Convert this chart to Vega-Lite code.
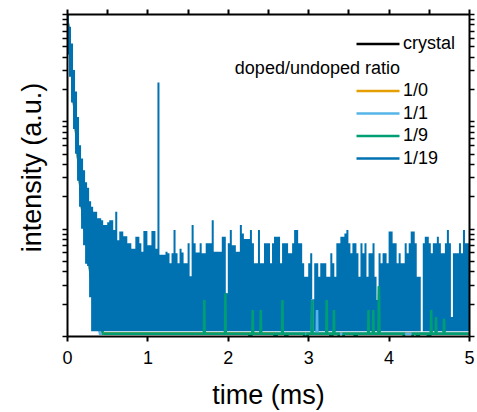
{
  "$schema": "https://vega.github.io/schema/vega-lite/v6.json",
  "width": 402,
  "height": 322,
  "autosize": "none",
  "padding": {"left": 67, "top": 14, "right": 8, "bottom": 76},
  "config": {"font": "Liberation Sans", "view": {"stroke": null}},
  "datasets": {
    "others": [
      {"s":"crystal","t":0,"v":1000},{"s":"crystal","t":0.05,"v":380},{"s":"crystal","t":0.1,"v":110},{"s":"crystal","t":0.15,"v":35},{"s":"crystal","t":0.2,"v":12},{"s":"crystal","t":0.25,"v":7.5},{"s":"crystal","t":0.3,"v":3.5},{"s":"crystal","t":0.35,"v":1.8},{"s":"crystal","t":0.45,"v":1.05},{"s":"crystal","t":5,"v":1.05},
      {"s":"1/0","t":0,"v":1000},{"s":"1/0","t":0.05,"v":370},{"s":"1/0","t":0.1,"v":105},{"s":"1/0","t":0.15,"v":34},{"s":"1/0","t":0.2,"v":12},{"s":"1/0","t":0.25,"v":7},{"s":"1/0","t":0.3,"v":3.4},{"s":"1/0","t":0.35,"v":1.8},{"s":"1/0","t":0.45,"v":1.05},
      {"s":"1/0","t":2.715,"v":1.05},{"s":"1/0","t":2.716,"v":0.9},{"s":"1/0","t":2.735,"v":0.9},{"s":"1/0","t":2.736,"v":1.05},
      {"s":"1/0","t":3.275,"v":1.05},{"s":"1/0","t":3.276,"v":0.9},{"s":"1/0","t":3.295,"v":0.9},{"s":"1/0","t":3.296,"v":1.05},
      {"s":"1/0","t":4.355,"v":1.05},{"s":"1/0","t":4.356,"v":0.9},{"s":"1/0","t":4.375,"v":0.9},{"s":"1/0","t":4.376,"v":1.05},{"s":"1/0","t":5,"v":1.05},
      {"s":"1/1","t":0,"v":1000},{"s":"1/1","t":0.05,"v":375},{"s":"1/1","t":0.1,"v":108},{"s":"1/1","t":0.15,"v":35},{"s":"1/1","t":0.2,"v":12},{"s":"1/1","t":0.25,"v":7.3},{"s":"1/1","t":0.3,"v":3.3},{"s":"1/1","t":0.35,"v":1.7},{"s":"1/1","t":0.41,"v":1.05},
      {"s":"1/1","t":2.585,"v":1.05},{"s":"1/1","t":2.586,"v":0.9},{"s":"1/1","t":2.605,"v":0.9},{"s":"1/1","t":2.606,"v":1.05},
      {"s":"1/1","t":2.715,"v":1.05},{"s":"1/1","t":2.716,"v":0.9},{"s":"1/1","t":2.735,"v":0.9},{"s":"1/1","t":2.736,"v":1.05},
      {"s":"1/1","t":3.046,"v":1.05},{"s":"1/1","t":3.05,"v":2.2},{"s":"1/1","t":3.054,"v":1.05},
      {"s":"1/1","t":3.106,"v":1.05},{"s":"1/1","t":3.11,"v":1.75},{"s":"1/1","t":3.114,"v":1.05},
      {"s":"1/1","t":3.275,"v":1.05},{"s":"1/1","t":3.276,"v":0.9},{"s":"1/1","t":3.295,"v":0.9},{"s":"1/1","t":3.296,"v":1.05},
      {"s":"1/1","t":4.355,"v":1.05},{"s":"1/1","t":4.356,"v":0.9},{"s":"1/1","t":4.375,"v":0.9},{"s":"1/1","t":4.376,"v":1.05},{"s":"1/1","t":5,"v":1.05},
      {"s":"1/9","t":0,"v":1000},{"s":"1/9","t":0.05,"v":385},{"s":"1/9","t":0.1,"v":112},{"s":"1/9","t":0.15,"v":36},{"s":"1/9","t":0.2,"v":12.5},{"s":"1/9","t":0.25,"v":7.6},{"s":"1/9","t":0.3,"v":3.6},{"s":"1/9","t":0.35,"v":1.9},{"s":"1/9","t":0.45,"v":1.05},
      {"s":"1/9","t":1.704,"v":1.05},{"s":"1/9","t":1.708,"v":2.16},{"s":"1/9","t":1.712,"v":1.05},
      {"s":"1/9","t":1.966,"v":1.05},{"s":"1/9","t":1.97,"v":2.5},{"s":"1/9","t":1.974,"v":1.05},
      {"s":"1/9","t":2.27,"v":1.05},{"s":"1/9","t":2.271,"v":0.9},{"s":"1/9","t":2.29,"v":0.9},{"s":"1/9","t":2.291,"v":1.05},
      {"s":"1/9","t":2.306,"v":1.05},{"s":"1/9","t":2.31,"v":1.75},{"s":"1/9","t":2.314,"v":1.05},
      {"s":"1/9","t":2.406,"v":1.05},{"s":"1/9","t":2.41,"v":1.75},{"s":"1/9","t":2.414,"v":1.05},
      {"s":"1/9","t":2.585,"v":1.05},{"s":"1/9","t":2.586,"v":0.9},{"s":"1/9","t":2.605,"v":0.9},{"s":"1/9","t":2.606,"v":1.05},
      {"s":"1/9","t":2.676,"v":1.05},{"s":"1/9","t":2.68,"v":2.16},{"s":"1/9","t":2.684,"v":1.05},
      {"s":"1/9","t":2.715,"v":1.05},{"s":"1/9","t":2.716,"v":0.9},{"s":"1/9","t":2.735,"v":0.9},{"s":"1/9","t":2.736,"v":1.05},
      {"s":"1/9","t":2.95,"v":1.05},{"s":"1/9","t":2.951,"v":0.9},{"s":"1/9","t":2.99,"v":0.9},{"s":"1/9","t":2.991,"v":1.05},
      {"s":"1/9","t":3.046,"v":1.05},{"s":"1/9","t":3.05,"v":2.16},{"s":"1/9","t":3.054,"v":1.05},
      {"s":"1/9","t":3.226,"v":1.05},{"s":"1/9","t":3.23,"v":2.16},{"s":"1/9","t":3.234,"v":1.05},
      {"s":"1/9","t":3.275,"v":1.05},{"s":"1/9","t":3.276,"v":0.9},{"s":"1/9","t":3.295,"v":0.9},{"s":"1/9","t":3.296,"v":1.05},
      {"s":"1/9","t":3.316,"v":1.05},{"s":"1/9","t":3.32,"v":1.75},{"s":"1/9","t":3.324,"v":1.05},
      {"s":"1/9","t":3.38,"v":1.05},{"s":"1/9","t":3.381,"v":0.9},{"s":"1/9","t":3.44,"v":0.9},{"s":"1/9","t":3.441,"v":1.05},
      {"s":"1/9","t":3.58,"v":1.05},{"s":"1/9","t":3.581,"v":0.9},{"s":"1/9","t":3.6,"v":0.9},{"s":"1/9","t":3.601,"v":1.05},
      {"s":"1/9","t":3.746,"v":1.05},{"s":"1/9","t":3.75,"v":1.75},{"s":"1/9","t":3.754,"v":1.05},
      {"s":"1/9","t":3.806,"v":1.05},{"s":"1/9","t":3.81,"v":1.75},{"s":"1/9","t":3.814,"v":1.05},
      {"s":"1/9","t":3.874,"v":1.05},{"s":"1/9","t":3.88,"v":2.9},{"s":"1/9","t":3.886,"v":1.05},
      {"s":"1/9","t":4.19,"v":1.05},{"s":"1/9","t":4.191,"v":0.9},{"s":"1/9","t":4.3,"v":0.9},{"s":"1/9","t":4.301,"v":1.05},
      {"s":"1/9","t":4.355,"v":1.05},{"s":"1/9","t":4.356,"v":0.9},{"s":"1/9","t":4.375,"v":0.9},{"s":"1/9","t":4.376,"v":1.05},
      {"s":"1/9","t":4.49,"v":1.05},{"s":"1/9","t":4.491,"v":0.9},{"s":"1/9","t":4.515,"v":0.9},{"s":"1/9","t":4.516,"v":1.05},
      {"s":"1/9","t":4.526,"v":1.05},{"s":"1/9","t":4.53,"v":1.75},{"s":"1/9","t":4.534,"v":1.05},
      {"s":"1/9","t":4.586,"v":1.05},{"s":"1/9","t":4.59,"v":1.5},{"s":"1/9","t":4.594,"v":1.05},
      {"s":"1/9","t":4.686,"v":1.05},{"s":"1/9","t":4.69,"v":1.45},{"s":"1/9","t":4.694,"v":1.05},{"s":"1/9","t":5,"v":1.05}
    ],
    "blue": [
      {"t":0,"hi":1000,"lo":420},{"t":0.025,"hi":760,"lo":260},{"t":0.05,"hi":530,"lo":150},{"t":0.075,"hi":300,"lo":85},{"t":0.1,"hi":190,"lo":50},{"t":0.125,"hi":110,"lo":28},{"t":0.15,"hi":60,"lo":16},{"t":0.175,"hi":45,"lo":10},{"t":0.2,"hi":35,"lo":7},{"t":0.225,"hi":27,"lo":4.7},{"t":0.25,"hi":24,"lo":4.5},{"t":0.275,"hi":18,"lo":2.3},
      {"t":0.3,"hi":16,"lo":1.11},{"t":0.325,"hi":14.4,"lo":1.11},{"t":0.35,"hi":14.4,"lo":1.11},{"t":0.375,"hi":12.5,"lo":1.11},{"t":0.4,"hi":12.5,"lo":1.11},{"t":0.425,"hi":12,"lo":1.11},{"t":0.45,"hi":10.8,"lo":1.11},{"t":0.475,"hi":10.8,"lo":1.11},
      {"t":0.5,"hi":11.5,"lo":1.11},{"t":0.525,"hi":12,"lo":1.11},{"t":0.55,"hi":12,"lo":1.11},{"t":0.575,"hi":9.7,"lo":1.11},{"t":0.6,"hi":14.4,"lo":1.11},{"t":0.625,"hi":7.8,"lo":1.11},{"t":0.65,"hi":9.4,"lo":1.11},{"t":0.675,"hi":9.4,"lo":1.11},
      {"t":0.7,"hi":8.5,"lo":1.11},{"t":0.725,"hi":8.5,"lo":1.11},{"t":0.75,"hi":7.3,"lo":1.11},{"t":0.775,"hi":7.3,"lo":1.11},{"t":0.8,"hi":6.5,"lo":1.11},{"t":0.825,"hi":6.5,"lo":1.11},{"t":0.85,"hi":8.4,"lo":1.11},{"t":0.875,"hi":8.4,"lo":1.11},
      {"t":0.9,"hi":7.3,"lo":1.11},{"t":0.925,"hi":6.1,"lo":1.11},{"t":0.95,"hi":9.5,"lo":1.11},{"t":0.975,"hi":9.5,"lo":1.11},{"t":1,"hi":7,"lo":1.11},{"t":1.025,"hi":7,"lo":1.11},{"t":1.05,"hi":9.5,"lo":1.11},{"t":1.075,"hi":9.5,"lo":1.11},
      {"t":1.1,"hi":6.5,"lo":1.11},{"t":1.125,"hi":230,"lo":1.11},{"t":1.15,"hi":5.7,"lo":1.11},{"t":1.175,"hi":5.7,"lo":1.11},{"t":1.2,"hi":5.7,"lo":1.11},{"t":1.225,"hi":6.1,"lo":1.11},{"t":1.25,"hi":5.9,"lo":1.11},{"t":1.275,"hi":4.75,"lo":1.11},
      {"t":1.3,"hi":5.9,"lo":1.11},{"t":1.325,"hi":9.7,"lo":1.11},{"t":1.35,"hi":5.9,"lo":1.11},{"t":1.375,"hi":4.75,"lo":1.11},{"t":1.4,"hi":6.5,"lo":1.11},{"t":1.425,"hi":6,"lo":1.11},{"t":1.45,"hi":4.75,"lo":1.11},{"t":1.475,"hi":4.75,"lo":1.11},
      {"t":1.5,"hi":7.3,"lo":1.11},{"t":1.525,"hi":3.6,"lo":1.11},{"t":1.55,"hi":10.8,"lo":1.11},{"t":1.575,"hi":7.3,"lo":1.11},{"t":1.6,"hi":6,"lo":1.11},{"t":1.625,"hi":6,"lo":1.11},{"t":1.65,"hi":7.3,"lo":1.11},{"t":1.675,"hi":5.9,"lo":1.11},
      {"t":1.7,"hi":5.9,"lo":1.11},{"t":1.725,"hi":7.3,"lo":1.11},{"t":1.75,"hi":7.3,"lo":1.11},{"t":1.775,"hi":7.3,"lo":1.11},{"t":1.8,"hi":12,"lo":1.11},{"t":1.825,"hi":6.1,"lo":1.11},{"t":1.85,"hi":6.1,"lo":1.11},{"t":1.875,"hi":6.1,"lo":1.11},
      {"t":1.9,"hi":6.1,"lo":1.11},{"t":1.925,"hi":8.4,"lo":1.11},{"t":1.95,"hi":8.4,"lo":1.11},{"t":1.975,"hi":2.5,"lo":1.11},{"t":2,"hi":7.3,"lo":1.11},{"t":2.025,"hi":9.7,"lo":1.11},{"t":2.05,"hi":7,"lo":1.11},{"t":2.075,"hi":7,"lo":1.11},
      {"t":2.1,"hi":6.1,"lo":1.11},{"t":2.125,"hi":6.1,"lo":1.11},{"t":2.15,"hi":10.8,"lo":1.11},{"t":2.175,"hi":9,"lo":1.11},{"t":2.2,"hi":8,"lo":1.11},{"t":2.225,"hi":8,"lo":1.11},{"t":2.25,"hi":8,"lo":1.11},{"t":2.275,"hi":9.7,"lo":1.11},
      {"t":2.3,"hi":7.3,"lo":1.11},{"t":2.325,"hi":4.75,"lo":1.11},{"t":2.35,"hi":4.75,"lo":1.11},{"t":2.375,"hi":9.7,"lo":1.11},{"t":2.4,"hi":4.75,"lo":1.11},{"t":2.425,"hi":4.75,"lo":1.11},{"t":2.45,"hi":7.3,"lo":1.11},{"t":2.475,"hi":7.3,"lo":1.11},
      {"t":2.5,"hi":7.3,"lo":1.11},{"t":2.525,"hi":4.75,"lo":1.11},{"t":2.55,"hi":7.3,"lo":1.11},{"t":2.575,"hi":8.4,"lo":1.11},{"t":2.6,"hi":8.4,"lo":1.11},{"t":2.625,"hi":8.4,"lo":1.11},{"t":2.65,"hi":4.75,"lo":1.11},{"t":2.675,"hi":7.3,"lo":1.11},
      {"t":2.7,"hi":7.3,"lo":1.11},{"t":2.725,"hi":7.3,"lo":1.11},{"t":2.75,"hi":5.9,"lo":1.11},{"t":2.775,"hi":5.9,"lo":1.11},{"t":2.8,"hi":7.3,"lo":1.11},{"t":2.825,"hi":9.7,"lo":1.11},{"t":2.85,"hi":9.7,"lo":1.11},{"t":2.875,"hi":7.3,"lo":1.11},
      {"t":2.9,"hi":7.3,"lo":1.11},{"t":2.925,"hi":4.75,"lo":1.11},{"t":2.95,"hi":3.57,"lo":1.11},{"t":2.975,"hi":3.57,"lo":1.11},{"t":3,"hi":4.75,"lo":1.11},{"t":3.025,"hi":5.9,"lo":1.11},{"t":3.05,"hi":2.2,"lo":1.11},{"t":3.075,"hi":4.75,"lo":1.11},
      {"t":3.1,"hi":4.75,"lo":1.11},{"t":3.125,"hi":3.57,"lo":1.11},{"t":3.15,"hi":4.75,"lo":1.11},{"t":3.175,"hi":4.75,"lo":1.11},{"t":3.2,"hi":4.75,"lo":1.11},{"t":3.225,"hi":3.57,"lo":1.11},{"t":3.25,"hi":3.57,"lo":1.11},{"t":3.275,"hi":5.9,"lo":1.11},
      {"t":3.3,"hi":4.75,"lo":1.11},{"t":3.325,"hi":3.57,"lo":1.11},{"t":3.35,"hi":7.3,"lo":1.11},{"t":3.375,"hi":7.3,"lo":1.11},{"t":3.4,"hi":8.4,"lo":1.11},{"t":3.425,"hi":8.4,"lo":1.11},{"t":3.45,"hi":9,"lo":1.11},{"t":3.475,"hi":9.7,"lo":1.11},
      {"t":3.5,"hi":7.3,"lo":1.11},{"t":3.525,"hi":5.9,"lo":1.11},{"t":3.55,"hi":7.3,"lo":1.11},{"t":3.575,"hi":7.3,"lo":1.11},{"t":3.6,"hi":5.9,"lo":1.11},{"t":3.625,"hi":3.57,"lo":1.11},{"t":3.65,"hi":7.3,"lo":1.11},{"t":3.675,"hi":5.9,"lo":1.11},
      {"t":3.7,"hi":7.3,"lo":1.11},{"t":3.725,"hi":3.57,"lo":1.11},{"t":3.75,"hi":5.9,"lo":1.11},{"t":3.775,"hi":5.9,"lo":1.11},{"t":3.8,"hi":7.3,"lo":1.11},{"t":3.825,"hi":3.57,"lo":1.11},{"t":3.85,"hi":2.16,"lo":1.11},{"t":3.875,"hi":5.9,"lo":1.11},
      {"t":3.9,"hi":4.75,"lo":1.11},{"t":3.925,"hi":5.9,"lo":1.11},{"t":3.95,"hi":5.9,"lo":1.11},{"t":3.975,"hi":4.75,"lo":1.11},{"t":4,"hi":9.4,"lo":1.11},{"t":4.025,"hi":9.4,"lo":1.11},{"t":4.05,"hi":7.3,"lo":1.11},{"t":4.075,"hi":7.3,"lo":1.11},
      {"t":4.1,"hi":4.75,"lo":1.11},{"t":4.125,"hi":5.9,"lo":1.11},{"t":4.15,"hi":4.75,"lo":1.11},{"t":4.175,"hi":4.75,"lo":1.11},{"t":4.2,"hi":7.3,"lo":1.11},{"t":4.225,"hi":5.9,"lo":1.11},{"t":4.25,"hi":7.3,"lo":1.11},{"t":4.275,"hi":9.4,"lo":1.11},
      {"t":4.3,"hi":9.4,"lo":1.11},{"t":4.325,"hi":7.3,"lo":1.11},{"t":4.35,"hi":3.57,"lo":1.11},{"t":4.375,"hi":3.57,"lo":1.11},{"t":4.4,"hi":1.11,"lo":1.11},{"t":4.425,"hi":7.3,"lo":1.11},{"t":4.45,"hi":8.4,"lo":1.11},{"t":4.475,"hi":8.4,"lo":1.11},
      {"t":4.5,"hi":7.3,"lo":1.11},{"t":4.525,"hi":5.9,"lo":1.11},{"t":4.55,"hi":7.3,"lo":1.11},{"t":4.575,"hi":7.3,"lo":1.11},{"t":4.6,"hi":8.4,"lo":1.11},{"t":4.625,"hi":7.3,"lo":1.11},{"t":4.65,"hi":5.9,"lo":1.11},{"t":4.675,"hi":5.9,"lo":1.11},
      {"t":4.7,"hi":7.3,"lo":1.11},{"t":4.725,"hi":9.7,"lo":1.11},{"t":4.75,"hi":7.3,"lo":1.11},{"t":4.775,"hi":1.5,"lo":1.11},{"t":4.8,"hi":5.9,"lo":1.11},{"t":4.825,"hi":5.9,"lo":1.11},{"t":4.85,"hi":5.9,"lo":1.11},{"t":4.875,"hi":7.3,"lo":1.11},
      {"t":4.9,"hi":5.9,"lo":1.11},{"t":4.925,"hi":9.7,"lo":1.11},{"t":4.95,"hi":7.3,"lo":1.11},{"t":4.975,"hi":7.3,"lo":1.11},{"t":5,"hi":7.3,"lo":1.11}
    ]
  },
  "layer": [
    {
      "data": {"name": "others"},
      "transform": [{"filter": "datum.s === 'crystal'"}],
      "mark": {"type": "line", "clip": true, "strokeWidth": 2.5},
      "encoding": {
        "x": {"field": "t", "type": "quantitative", "scale": {"domain": [0, 5], "nice": false},
          "axis": {"orient": "bottom", "values": [0,0.5,1,1.5,2,2.5,3,3.5,4,4.5,5], "format": "d",
            "labelExpr": "datum.value % 1 === 0 ? datum.label : ''", "labelOverlap": false, "labelFlush": false,
            "title": "time (ms)", "titleFontSize": 27, "titleFontWeight": "normal", "titleColor": "black", "titleBaseline": "alphabetic", "titleY": 67,
            "labelFontSize": 18, "labelColor": "black", "labelBaseline": "alphabetic", "labelPadding": 22,
            "tickSize": 5, "tickWidth": 2, "tickColor": "black", "domainColor": "black", "domainWidth": 2, "grid": false, "zindex": 1,
            "encode": {"ticks": {"update": {"y2": {"signal": "datum.value % 1 === 0 ? 6 : 3"}}}}}},
        "y": {"field": "v", "type": "quantitative", "scale": {"type": "log", "domain": [1, 1000], "nice": false},
          "axis": {"orient": "left", "values": [1,2,3,4,5,6,7,8,9,10,20,30,40,50,60,70,80,90,100,200,300,400,500,600,700,800,900,1000],
            "labels": false, "title": "intensity (a.u.)", "titleFontSize": 27, "titleFontWeight": "normal", "titleColor": "black",
            "titleBaseline": "alphabetic", "titleX": -27, "titleY": 153, "titleAngle": -90,
            "tickSize": 5, "tickWidth": 1.5, "tickColor": "black", "domainColor": "black", "domainWidth": 2, "grid": false, "zindex": 1,
            "encode": {"ticks": {"update": {
              "x": {"signal": "abs(round(log(datum.value)/LN10) - log(datum.value)/LN10) < 0.001 ? 5 : 0"},
              "x2": {"signal": "abs(round(log(datum.value)/LN10) - log(datum.value)/LN10) < 0.001 ? -5 : 4"}}}}}},
        "color": {"field": "s", "type": "nominal", "scale": {"domain": ["crystal"], "range": ["black"]},
          "legend": {"orient": "none", "legendX": 288, "legendY": 20, "title": null, "padding": 0,
            "symbolType": "stroke", "symbolSize": 1849, "symbolStrokeWidth": 2.5, "clipHeight": 20,
            "labelFontSize": 18, "labelColor": "black", "labelOffset": 2}}
      }
    },
    {
      "layer": [
        {
          "data": {"name": "others"},
          "transform": [{"filter": "datum.s !== 'crystal'"}],
          "mark": {"type": "line", "clip": true, "strokeWidth": 2.5},
          "encoding": {
            "x": {"field": "t", "type": "quantitative", "scale": {"domain": [0, 5], "nice": false}, "axis": null},
            "y": {"field": "v", "type": "quantitative", "scale": {"type": "log", "domain": [1, 1000], "nice": false}, "axis": null},
            "color": {"field": "s", "type": "nominal",
              "scale": {"domain": ["1/0", "1/1", "1/9", "1/19"], "range": ["#E69F00", "#56B4E9", "#009E73", "#0072B2"]},
              "legend": {"orient": "none", "legendX": 168, "legendY": 46, "title": "doped/undoped ratio", "padding": 0,
                "titleAlign": "right", "titleAnchor": "start", "titleFontSize": 18, "titleFontWeight": "normal", "titleColor": "black", "titlePadding": 3,
                "symbolType": "stroke", "symbolSize": 1849, "symbolStrokeWidth": 2.5, "clipHeight": 20, "rowPadding": 2.5,
                "labelFontSize": 18, "labelColor": "black", "labelOffset": 2,
                "encode": {"title": {"update": {"dx": {"value": 45}}}}}}
          }
        },
        {
          "data": {"name": "blue"},
          "mark": {"type": "area", "clip": true, "interpolate": "step-after"},
          "encoding": {
            "x": {"field": "t", "type": "quantitative", "scale": {"domain": [0, 5], "nice": false}, "axis": null},
            "y": {"field": "hi", "type": "quantitative", "scale": {"type": "log", "domain": [1, 1000], "nice": false}, "axis": null},
            "y2": {"field": "lo"},
            "color": {"datum": "1/19"}
          }
        },
        {
          "data": {"name": "others"},
          "transform": [{"filter": "datum.s !== 'crystal' && datum.t >= 0.44"}],
          "mark": {"type": "line", "clip": true, "strokeWidth": 2.5},
          "encoding": {
            "x": {"field": "t", "type": "quantitative", "scale": {"domain": [0, 5], "nice": false}, "axis": null},
            "y": {"field": "v", "type": "quantitative", "scale": {"type": "log", "domain": [1, 1000], "nice": false}, "axis": null},
            "color": {"field": "s", "type": "nominal"}
          }
        }
      ]
    },
    {
      "data": {"name": "blue"},
      "mark": {"type": "point", "opacity": 0},
      "encoding": {
        "x": {"field": "t", "type": "quantitative", "scale": {"domain": [0, 5], "nice": false},
          "axis": {"orient": "top", "values": [0,0.5,1,1.5,2,2.5,3,3.5,4,4.5,5], "labels": false, "title": null,
            "tickSize": 5, "tickWidth": 2, "tickColor": "black", "domainColor": "black", "domainWidth": 2, "grid": false, "zindex": 1,
            "encode": {"ticks": {"update": {"y2": {"signal": "datum.value % 1 === 0 ? 6 : 3"}}}}}},
        "y": {"field": "hi", "type": "quantitative", "scale": {"type": "log", "domain": [1, 1000], "nice": false},
          "axis": {"orient": "right", "values": [1,2,3,4,5,6,7,8,9,10,20,30,40,50,60,70,80,90,100,200,300,400,500,600,700,800,900,1000],
            "labels": false, "title": null,
            "tickSize": 5, "tickWidth": 1.5, "tickColor": "black", "domainColor": "black", "domainWidth": 2, "grid": false, "zindex": 1,
            "encode": {"ticks": {"update": {
              "x": {"signal": "abs(round(log(datum.value)/LN10) - log(datum.value)/LN10) < 0.001 ? 5 : 0"},
              "x2": {"signal": "abs(round(log(datum.value)/LN10) - log(datum.value)/LN10) < 0.001 ? -5 : -4"}}}}}}
      }
    }
  ],
  "resolve": {"scale": {"color": "independent"}, "axis": {"x": "independent", "y": "independent"}}
}
